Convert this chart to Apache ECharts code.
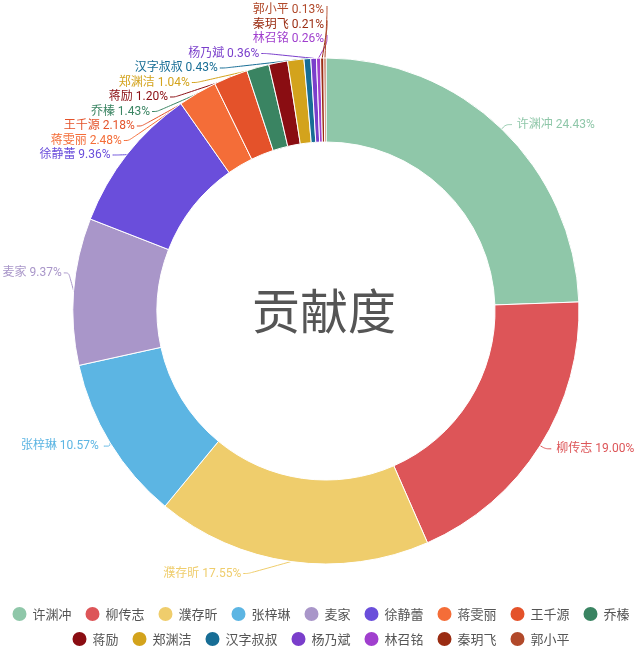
<!DOCTYPE html>
<html>
<head>
<meta charset="utf-8">
<script src="https://cdn.jsdelivr.net/npm/echarts@6/dist/echarts.min.js"></script>
<style>
  html, body { margin: 0; padding: 0; background: #fff; }
  #chart { width: 640px; height: 655px; }
</style>
</head>
<body>
<div id="chart"></div>
<script>
// contributors and their share (%)
const names = ['许渊冲', '柳传志', '濮存昕', '张梓琳', '麦家', '徐静蕾', '蒋雯丽', '王千源', '乔榛',
  '蒋励', '郑渊洁', '汉字叔叔', '杨乃斌', '林召铭', '秦玥飞', '郭小平']
const shares = [24.43, 19.00, 17.55, 10.57, 9.37, 9.36, 2.48, 2.18, 1.43,
  1.20, 1.04, 0.43, 0.36, 0.26, 0.21, 0.13]
const colors = ['#8fc7a9', '#dd5558', '#efcd6c', '#5cb5e3', '#a996c9', '#6a4edb', '#f46d38', '#e4522a', '#3a8462',
  '#8a0d12', '#d3a31c', '#176d95', '#7a3ecb', '#a03fce', '#9a2c12', '#b1492a']

const pieData = names.map((n, i) => ({ name: n, value: shares[i] }))

const cx = 326, cy = 311, rOut = 253

const legendText = { fontSize: 13, color: '#555', fontFamily: 'Noto Sans CJK SC' }

// right-aligned label ending at xe, centred on y, with a line back to the slice
function placeLeft(p, xe, y) {
  const p0 = p.labelLinePoints[0]
  return {
    x: xe, y: y, align: 'right', verticalAlign: 'middle',
    labelLinePoints: [p0, [xe + 7, y], [xe + 2, y]]
  }
}

// shift a few labels, and stack the small slices' labels up the top-left of the ring
function stackLabels(p) {
  const i = p.dataIndex
  const r = p.labelRect
  if (i === 4) return placeLeft(p, r.x + r.width, r.y + r.height / 2 - 18)
  if (i === 2) return placeLeft(p, r.x + r.width - 38, r.y + r.height / 2 + 6)
  if (i < 5) return {}
  const y = 155 - (i - 5) * 14.5
  const dy = cy - y
  const R = rOut + 13
  const xe = dy < R ? cx - Math.sqrt(R * R - dy * dy) : cx
  if (xe >= cx - 2) {
    const p0 = p.labelLinePoints[0]
    return {
      x: cx - 2, y: y, align: 'right', verticalAlign: 'middle',
      labelLinePoints: [p0, [cx + 1, y + 4], [cx + 1, y - 4]]
    }
  }
  return placeLeft(p, xe, y)
}

const myChart = echarts.init(document.getElementById('chart'))
myChart.setOption({
  color: colors,
  title: {
    text: '贡献度',
    left: 247,
    top: 282,
    textStyle: { fontSize: 48, fontWeight: 'normal', color: '#555', fontFamily: 'Noto Sans CJK SC' }
  },
  legend: [
    {
      top: 605, left: 'center', icon: 'circle', padding: 0,
      itemWidth: 16, itemHeight: 16, itemGap: 12,
      textStyle: legendText,
      data: names.slice(0, 9)
    },
    {
      top: 630, left: 'center', icon: 'circle', padding: 0,
      itemWidth: 16, itemHeight: 16, itemGap: 12,
      textStyle: legendText,
      data: names.slice(9)
    }
  ],
  series: [
    {
      type: 'pie',
      center: [cx, cy],
      radius: [169, rOut],
      startAngle: 90,
      avoidLabelOverlap: true,
      label: {
        formatter: p => p.name + ' ' + shares[p.dataIndex].toFixed(2) + '%',
        fontSize: 12,
        fontFamily: 'Roboto, Noto Sans CJK SC',
        color: 'inherit',
        overflow: 'none'
      },
      labelLine: { length: 6, length2: 6, smooth: true },
      labelLayout: stackLabels,
      itemStyle: { borderColor: '#fff', borderWidth: 1 },
      data: pieData
    }
  ]
})
</script>
</body>
</html>
